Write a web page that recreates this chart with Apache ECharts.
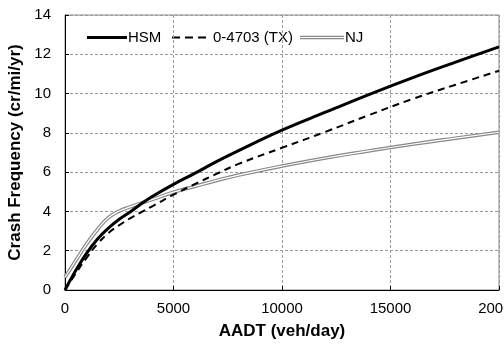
<!DOCTYPE html>
<html>
<head>
<meta charset="utf-8">
<script src="https://cdn.jsdelivr.net/npm/echarts@6/dist/echarts.min.js"></script>
<style>html,body{margin:0;padding:0;background:#fff;}#c{width:504px;height:349px;}</style>
</head>
<body>
<div id="c"></div>
<script>
const aadt = [0, 500, 1000, 1500, 2000, 2500, 3000, 3500, 4000, 5000, 6000, 7000, 8000, 10000, 12000, 14000, 16000, 18000, 20000];
const hsm  = [0, 1.0, 1.88, 2.6, 3.15, 3.6, 3.97, 4.38, 4.75, 5.38, 5.95, 6.55, 7.1, 8.14, 9.05, 9.95, 10.8, 11.6, 12.38];
const tx   = [0, 0.85, 1.65, 2.35, 2.9, 3.3, 3.65, 3.95, 4.25, 4.85, 5.4, 5.92, 6.42, 7.24, 8.05, 8.9, 9.72, 10.45, 11.16];
const nj   = [0.65, 1.5, 2.35, 3.08, 3.68, 4.02, 4.23, 4.42, 4.6, 4.98, 5.28, 5.58, 5.85, 6.31, 6.72, 7.08, 7.42, 7.73, 8.03];
const seriesNames = ['HSM', '0-4703 (TX)', 'NJ'];
const xTicks = [0, 5000, 10000, 15000, 20000];
const yTicks = [0, 2, 4, 6, 8, 10, 12, 14];

const pairs = arr => aadt.map((x, i) => [x, arr[i]]);
const FONT = 'Liberation Sans, Arial, sans-serif';

const chart = echarts.init(document.getElementById('c'));
chart.setOption({
  animation: false,
  backgroundColor: '#fff',
  grid: {left: 65, top: 15, right: 5, bottom: 59, show: true, borderColor: '#888', borderWidth: 1,
         outerBoundsMode: 'none', containLabel: false},
  xAxis: {
    type: 'value', min: xTicks[0], max: xTicks[xTicks.length - 1], interval: 5000,
    name: 'AADT (veh/day)', nameLocation: 'middle', nameGap: 33,
    nameTextStyle: {fontFamily: FONT, fontWeight: 'bold', fontSize: 17, color: '#000'},
    axisLine: {lineStyle: {color: '#000', width: 1}},
    axisTick: {show: true, inside: true, length: 4, lineStyle: {color: '#000'}},
    axisLabel: {fontFamily: FONT, fontSize: 15, color: '#000', margin: 11,
                formatter: v => String(v), hideOverlap: false, showMaxLabel: true},
    splitLine: {show: true, lineStyle: {color: '#999', type: [3, 2], width: 1}}
  },
  yAxis: {
    type: 'value', min: yTicks[0], max: yTicks[yTicks.length - 1], interval: 2,
    name: 'Crash Frequency (cr/mi/yr)', nameLocation: 'middle', nameGap: 36,
    nameTextStyle: {fontFamily: FONT, fontWeight: 'bold', fontSize: 17, color: '#000'},
    axisLine: {show: true, lineStyle: {color: '#000', width: 1}},
    axisTick: {show: true, inside: true, length: 4, lineStyle: {color: '#000'}},
    axisLabel: {fontFamily: FONT, fontSize: 15, color: '#000', margin: 14},
    splitLine: {show: true, lineStyle: {color: '#999', type: [3, 2], width: 1}}
  },
  series: [
    {name: seriesNames[2], type: 'line', data: pairs(nj), smooth: 0.5, symbol: 'none',
     lineStyle: {color: '#888', width: 3.6}, z: 2},
    {name: seriesNames[2] + '_inner', type: 'line', data: pairs(nj), smooth: 0.5, symbol: 'none',
     lineStyle: {color: '#fff', width: 1.2}, z: 3},
    {name: seriesNames[1], type: 'line', data: pairs(tx), smooth: 0.4, symbol: 'none',
     lineStyle: {color: '#000', width: 2, type: [7, 5]}, z: 4},
    {name: seriesNames[0], type: 'line', data: pairs(hsm), smooth: 0.4, symbol: 'none',
     lineStyle: {color: '#000', width: 3}, z: 5}
  ],
  graphic: [
    {type: 'line', shape: {x1: 87, y1: 37.5, x2: 127, y2: 37.5}, style: {stroke: '#000', lineWidth: 3}},
    {type: 'text', left: 128, top: 30, style: {text: seriesNames[0], font: '15px ' + FONT, fill: '#000'}},
    {type: 'line', shape: {x1: 172, y1: 37.5, x2: 211, y2: 37.5}, style: {stroke: '#000', lineWidth: 2, lineDash: [8, 5]}},
    {type: 'text', left: 213, top: 30, style: {text: seriesNames[1], font: '15px ' + FONT, fill: '#000'}},
    {type: 'line', shape: {x1: 300, y1: 37.5, x2: 344, y2: 37.5}, style: {stroke: '#888', lineWidth: 3.6}},
    {type: 'line', shape: {x1: 300, y1: 37.5, x2: 344, y2: 37.5}, style: {stroke: '#fff', lineWidth: 1.2}},
    {type: 'text', left: 345, top: 30, style: {text: seriesNames[2], font: '15px ' + FONT, fill: '#000'}}
  ]
});
</script>
</body>
</html>
